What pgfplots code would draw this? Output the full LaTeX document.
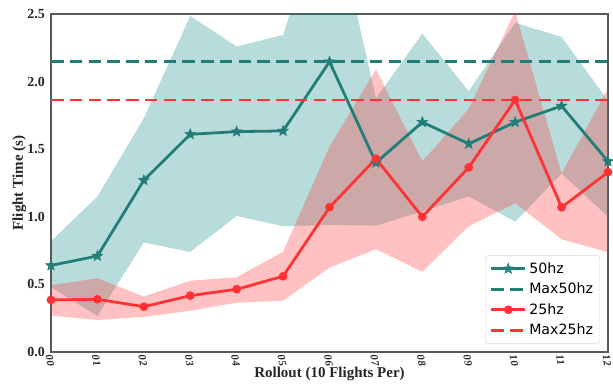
\documentclass[border=0pt]{standalone}
\usepackage{fontspec}
\setmainfont{Liberation Serif}
\newfontfamily\dejavu{DejaVu Sans}
\usepackage{pgfplots}
\pgfplotsset{compat=1.18}
\definecolor{tealc}{RGB}{34,124,119}
\definecolor{tealf}{RGB}{0,128,128}
\definecolor{redc}{RGB}{255,51,51}
\pgfdeclareplotmark{fstar}{%
  \pgfpathmoveto{\pgfpointpolar{90}{\pgfplotmarksize}}%
  \pgfpathlineto{\pgfpointpolar{126}{0.42\pgfplotmarksize}}%
  \pgfpathlineto{\pgfpointpolar{162}{\pgfplotmarksize}}%
  \pgfpathlineto{\pgfpointpolar{198}{0.42\pgfplotmarksize}}%
  \pgfpathlineto{\pgfpointpolar{234}{\pgfplotmarksize}}%
  \pgfpathlineto{\pgfpointpolar{270}{0.42\pgfplotmarksize}}%
  \pgfpathlineto{\pgfpointpolar{306}{\pgfplotmarksize}}%
  \pgfpathlineto{\pgfpointpolar{342}{0.42\pgfplotmarksize}}%
  \pgfpathlineto{\pgfpointpolar{18}{\pgfplotmarksize}}%
  \pgfpathlineto{\pgfpointpolar{54}{0.42\pgfplotmarksize}}%
  \pgfpathclose
  \pgfusepathqfillstroke
}
\begin{document}
\begin{tikzpicture}
\begin{axis}[
  at={(0,0)}, anchor=south west,
  scale only axis, width=401.04pt, height=243.36pt,
  xmin=0, xmax=12, ymin=0, ymax=2.5,
  xtick={0,...,12},
  xticklabels={00,01,02,03,04,05,06,07,08,09,10,11,12},
  ytick={0,0.5,1,1.5,2,2.5},
  yticklabels={0.0,0.5,1.0,1.5,2.0,2.5},
  /pgf/number format/assume math mode=true,
  major tick length=0pt,
  axis line style={draw=black!65, line width=0.9pt},
  yticklabel style={font=\fontsize{10}{11}\selectfont\bfseries, text=black!85, xshift=-1pt},
  xticklabel style={font=\fontsize{7.8}{8}\selectfont\bfseries\itshape, text=black!85, xshift=-1.6pt, yshift=-1.2pt, rotate=-80, anchor=west, inner sep=1pt},
  xlabel={Rollout (10 Flights Per)},
  ylabel={Flight Time (s)},
  label style={font=\fontsize{10.8}{12}\selectfont\bfseries, text=black!85},
  xlabel style={at={(rel axis cs:0.5,0)}, anchor=north, yshift=-7.5pt},
  ylabel style={yshift=-6pt},
  clip=true,
  legend style={
    at={(rel axis cs:0.986,0.024)}, anchor=south east,
    font=\dejavu\fontsize{10.2}{12}\selectfont,
    draw=black!15, rounded corners=2pt, fill=white, fill opacity=0.85, text opacity=1,
    row sep=1.5pt, inner xsep=3pt, inner ysep=3pt,
  },
  legend cell align=left,
  legend image code/.code={
    \draw[#1] (0cm,0cm) -- (0.85cm,0cm);
    \draw[#1, solid] plot coordinates {(0.425cm,0cm)};
  },
]
% teal band
\addplot[draw=none, fill=tealf, fill opacity=0.28, forget plot] coordinates {
 (0,0.82) (1,1.15) (2,1.73) (3,2.485) (4,2.26) (5,2.345) (6,3.40) (7,1.876) (8,2.355) (9,1.93) (10,2.435) (11,2.33) (12,1.86)
 (12,1.00) (11,1.32) (10,0.964) (9,1.15) (8,1.04) (7,0.934) (6,0.94) (5,0.93) (4,1.006) (3,0.74) (2,0.81) (1,0.266) (0,0.48)
} -- cycle;
% red band
\addplot[draw=none, fill=redc, fill opacity=0.3, forget plot] coordinates {
 (0,0.495) (1,0.545) (2,0.41) (3,0.527) (4,0.553) (5,0.742) (6,1.52) (7,2.09) (8,1.41) (9,1.80) (10,2.52) (11,1.32) (12,1.95)
 (12,0.737) (11,0.834) (10,1.10) (9,0.93) (8,0.594) (7,0.76) (6,0.624) (5,0.38) (4,0.365) (3,0.305) (2,0.26) (1,0.237) (0,0.27)
} -- cycle;
% 50hz
\addplot[color=tealc, line width=2pt, mark=fstar, mark size=4pt, mark options={fill=tealc, line width=0.4pt, solid}] coordinates {
 (0,0.64) (1,0.71) (2,1.27) (3,1.61) (4,1.63) (5,1.635) (6,2.147) (7,1.40) (8,1.70) (9,1.54) (10,1.70) (11,1.82) (12,1.41)
};
\addlegendentry{50hz}
\addplot[color=tealc, line width=2pt, dash pattern=on 9pt off 4.5pt] coordinates {(0,2.147) (12,2.147)};
\addlegendentry{Max50hz}
% 25hz
\addplot[color=redc, line width=2pt, mark=*, mark size=2.1pt] coordinates {
 (0,0.385) (1,0.39) (2,0.335) (3,0.417) (4,0.464) (5,0.56) (6,1.07) (7,1.43) (8,1.00) (9,1.365) (10,1.864) (11,1.07) (12,1.33)
};
\addlegendentry{25hz}
\addplot[color=redc, line width=2pt, dash pattern=on 9pt off 4.5pt] coordinates {(0,1.864) (12,1.864)};
\addlegendentry{Max25hz}
\end{axis}
\pgfresetboundingbox
\path (-36.72pt,-23.76pt) rectangle (404.64pt,253.44pt);
\end{tikzpicture}
\end{document}
